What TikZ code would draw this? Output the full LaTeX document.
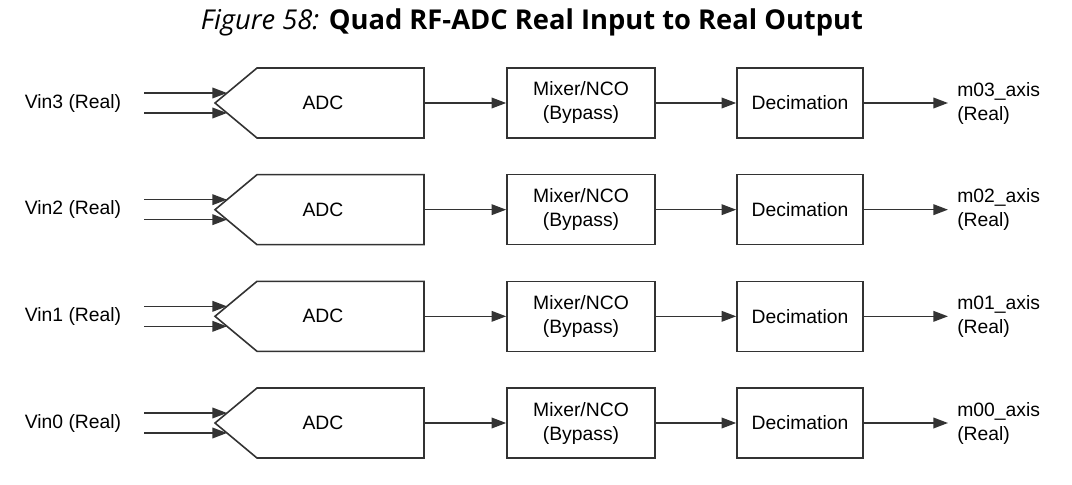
\documentclass[tikz,border=0pt]{standalone}
\usepackage{fontspec}
\setmainfont{Liberation Sans}
\newfontfamily\titlefont{Open Sans}
\usetikzlibrary{arrows.meta}
\begin{document}
\begin{tikzpicture}[x=0.75pt,y=-0.75pt,
  line/.style={draw=black!80, line width=1.2pt},
  arr/.style={line, -{Triangle[length=11pt,width=8pt]}},
  txt/.style={inner sep=0pt, align=center, font=\fontsize{14.5pt}{18pt}\selectfont},
  blk/.style={line, txt, minimum height=52.5pt}]
\useasboundingbox (0,0) rectangle (1072,485);
\node[inner sep=0pt, font=\titlefont\fontsize{20.5pt}{24pt}\selectfont] (title) at (532,22)
  {\textit{Figure 58:} \textbf{Quad RF-ADC Real Input to Real Output}};
\foreach \n/\c in {3/103,2/209.67,1/316.33,0/423}{
  \draw[line] (257,\c-35) -- (424,\c-35) -- (424,\c+35) -- (257,\c+35) -- (215,\c) -- cycle;
  \node[txt] (adc\n) at (323,\c) {ADC};
  \coordinate (adcR\n) at (424,\c);
  \coordinate (inA\n) at (144,\c-10);
  \coordinate (inB\n) at (144,\c+10);
  \coordinate (edgeA\n) at (227,\c-10);
  \coordinate (edgeB\n) at (227,\c+10);
  \node[txt] (vin\n) at (73,\c) {Vin\n{} (Real)};
  \node[blk, minimum width=111pt] (mix\n) at (581,\c) {Mixer/NCO\\(Bypass)};
  \node[blk, minimum width=94.5pt] (dec\n) at (800,\c) {Decimation};
  \node[txt, anchor=west, align=left] (out\n) at (957,\c) {m0\n\_axis\\(Real)};
  \draw[arr] (inA\n) -- (edgeA\n);
  \draw[arr] (inB\n) -- (edgeB\n);
  \draw[arr] (adcR\n) -- (mix\n.west);
  \draw[arr] (mix\n.east) -- (dec\n.west);
  \draw[arr, shorten >=6.75pt] (dec\n.east) -- (out\n.west);
}
\end{tikzpicture}
\end{document}
